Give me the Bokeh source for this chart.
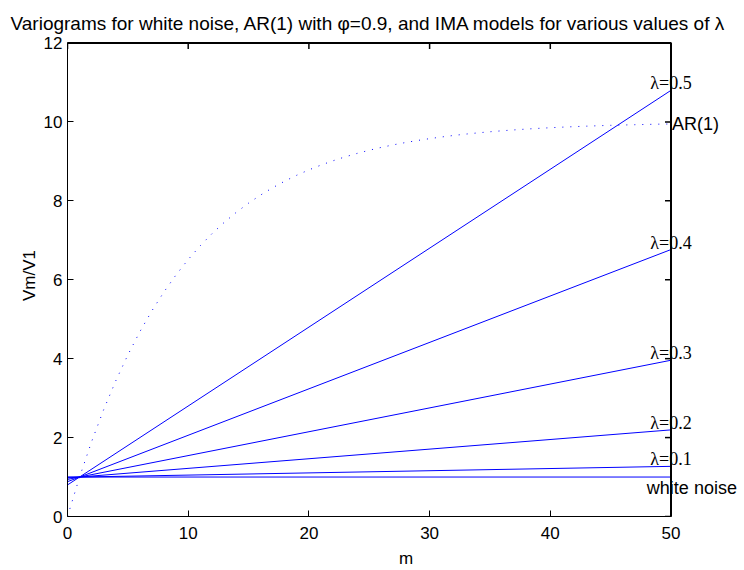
from bokeh.plotting import figure
from bokeh.models import Range1d, FixedTicker, Label, LabelSet, ColumnDataSource
from bokeh.embed import file_html
from bokeh.resources import INLINE

# Lag range shown on the x axis (the IMA variograms are straight lines)
m_ends = [0, 50]

# IMA variograms V_m/V_1 for each lambda, at m = 0 and m = 50
lambdas = [0.1, 0.2, 0.3, 0.4, 0.5]
ima_start = [0.994, 0.976, 0.940, 0.882, 0.800]
ima_end = [1.271, 2.195, 3.960, 6.765, 10.800]

# White noise variogram
white_noise = [1.0, 1.0]

# AR(1) variogram, phi = 0.9, at integer lags
ar_m = list(range(51))
ar_vals = [0.000, 1.000, 1.900, 2.710, 3.439, 4.095, 4.686, 5.217, 5.695, 6.126,
           6.513, 6.862, 7.176, 7.458, 7.712, 7.941, 8.147, 8.332, 8.499, 8.649,
           8.784, 8.906, 9.015, 9.114, 9.202, 9.282, 9.354, 9.419, 9.477, 9.529,
           9.576, 9.618, 9.657, 9.691, 9.722, 9.750, 9.775, 9.797, 9.818, 9.836,
           9.852, 9.867, 9.880, 9.892, 9.903, 9.913, 9.921, 9.929, 9.936, 9.943,
           9.948]

x_ticks = [0, 10, 20, 30, 40, 50]
y_ticks = [0, 2, 4, 6, 8, 10, 12]

FONT = "Liberation Sans"
FS = "17px"
LABEL_FS = "18px"
BLUE = "#0000ff"
BLACK = "#000000"
TICK = 6

# Canvas geometry. The axes box spans x=67..670.5 and y=42.5..517 px; the plotting
# frame itself runs on to the right edge and above the box, so that the
# end-of-curve labels and the box edges are not clipped.
W, H = 744, 570
LEFT, BOX_RIGHT = 67, 670.5
FRAME_TOP, BOX_TOP, BOTTOM = 34, 42.5, 517
X_MIN, X_MAX = m_ends[0], m_ends[-1]
Y_MIN, Y_MAX = y_ticks[0], y_ticks[-1]
x_per_px = (X_MAX - X_MIN) / (BOX_RIGHT - LEFT)
y_per_px = (Y_MAX - Y_MIN) / (BOTTOM - BOX_TOP)
frame_x_end = X_MIN + (W - LEFT) * x_per_px
frame_y_end = Y_MIN + (BOTTOM - FRAME_TOP) * y_per_px

p = figure(width=W, height=H, x_range=Range1d(X_MIN, frame_x_end),
           y_range=Range1d(Y_MIN, frame_y_end),
           output_backend="svg", toolbar_location=None,
           min_border_left=LEFT, min_border_right=0, min_border_top=FRAME_TOP,
           min_border_bottom=H - BOTTOM,
           title="Variograms for white noise, AR(1) with \u03c6=0.9, and IMA models for various values of \u03bb")

p.background_fill_color = "white"
p.border_fill_color = "white"
p.outline_line_color = None
p.xgrid.visible = False
p.ygrid.visible = False

p.title.align = "left"
p.title.offset = 10 - LEFT
p.title.text_font = FONT
p.title.text_font_size = "19px"
p.title.text_font_style = "normal"
p.title.text_color = BLACK
p.title.standoff = 2


def style_axis(ax, ticks, bounds):
    ax.ticker = FixedTicker(ticks=ticks)
    ax.bounds = bounds
    ax.major_tick_in = TICK
    ax.major_tick_out = 0
    ax.minor_tick_line_color = None
    ax.axis_line_color = BLACK
    ax.axis_line_width = 1
    ax.major_tick_line_color = BLACK
    ax.major_label_text_font = FONT
    ax.major_label_text_font_size = FS
    ax.major_label_text_color = BLACK
    ax.axis_label_text_font = FONT
    ax.axis_label_text_font_size = FS
    ax.axis_label_text_font_style = "normal"
    ax.axis_label_text_color = BLACK


xa = p.xaxis[0]
ya = p.yaxis[0]
style_axis(xa, x_ticks, (X_MIN, X_MAX))
style_axis(ya, y_ticks, (Y_MIN, Y_MAX))
xa.axis_label = "m"
ya.axis_label = "Vm/V1"
xa.major_label_standoff = 10
xa.axis_label_standoff = 7
ya.major_label_standoff = 5
ya.axis_label_standoff = 2

# AR(1) curve, dotted
p.line(ar_m, ar_vals, line_color=BLUE, line_width=1, line_dash="1 7")

# White noise and IMA lines
p.line(m_ends, white_noise, line_color=BLUE, line_width=1)
for s, e in zip(ima_start, ima_end):
    p.line(m_ends, [s, e], line_color=BLUE, line_width=1)

# Axes box: top and right edges, with inward ticks
p.line([X_MIN, X_MAX, X_MAX], [Y_MAX, Y_MAX, Y_MIN], line_color=BLACK, line_width=2)
tick_dx = TICK * x_per_px
tick_dy = TICK * y_per_px
p.multi_line(xs=[[x, x] for x in x_ticks], ys=[[Y_MAX, Y_MAX - tick_dy]] * len(x_ticks),
             line_color=BLACK, line_width=1.5)
p.multi_line(xs=[[X_MAX, X_MAX - tick_dx]] * len(y_ticks), ys=[[y, y] for y in y_ticks],
             line_color=BLACK, line_width=1.5)

# Labels at the right end of each curve
lam_src = ColumnDataSource(dict(x=[m_ends[-1]] * len(lambdas), y=ima_end,
                                t=["\u03bb=%.1f" % l for l in lambdas]))
p.add_layout(LabelSet(x="x", y="y", text="t", source=lam_src, text_align="center",
                      text_baseline="alphabetic", y_offset=1, text_font=FONT,
                      text_font_size=LABEL_FS, text_color=BLACK))

p.add_layout(Label(x=m_ends[-1], y=ar_vals[-1], text="AR(1)", text_align="left",
                   text_baseline="middle", x_offset=1, text_font=FONT,
                   text_font_size=LABEL_FS, text_color=BLACK))

p.add_layout(Label(x=48, y=white_noise[-1], text="white noise", text_align="left",
                   text_baseline="top", y_offset=-1, text_font=FONT,
                   text_font_size=LABEL_FS, text_color=BLACK))

open("out.html", "w").write(file_html(p, INLINE))
